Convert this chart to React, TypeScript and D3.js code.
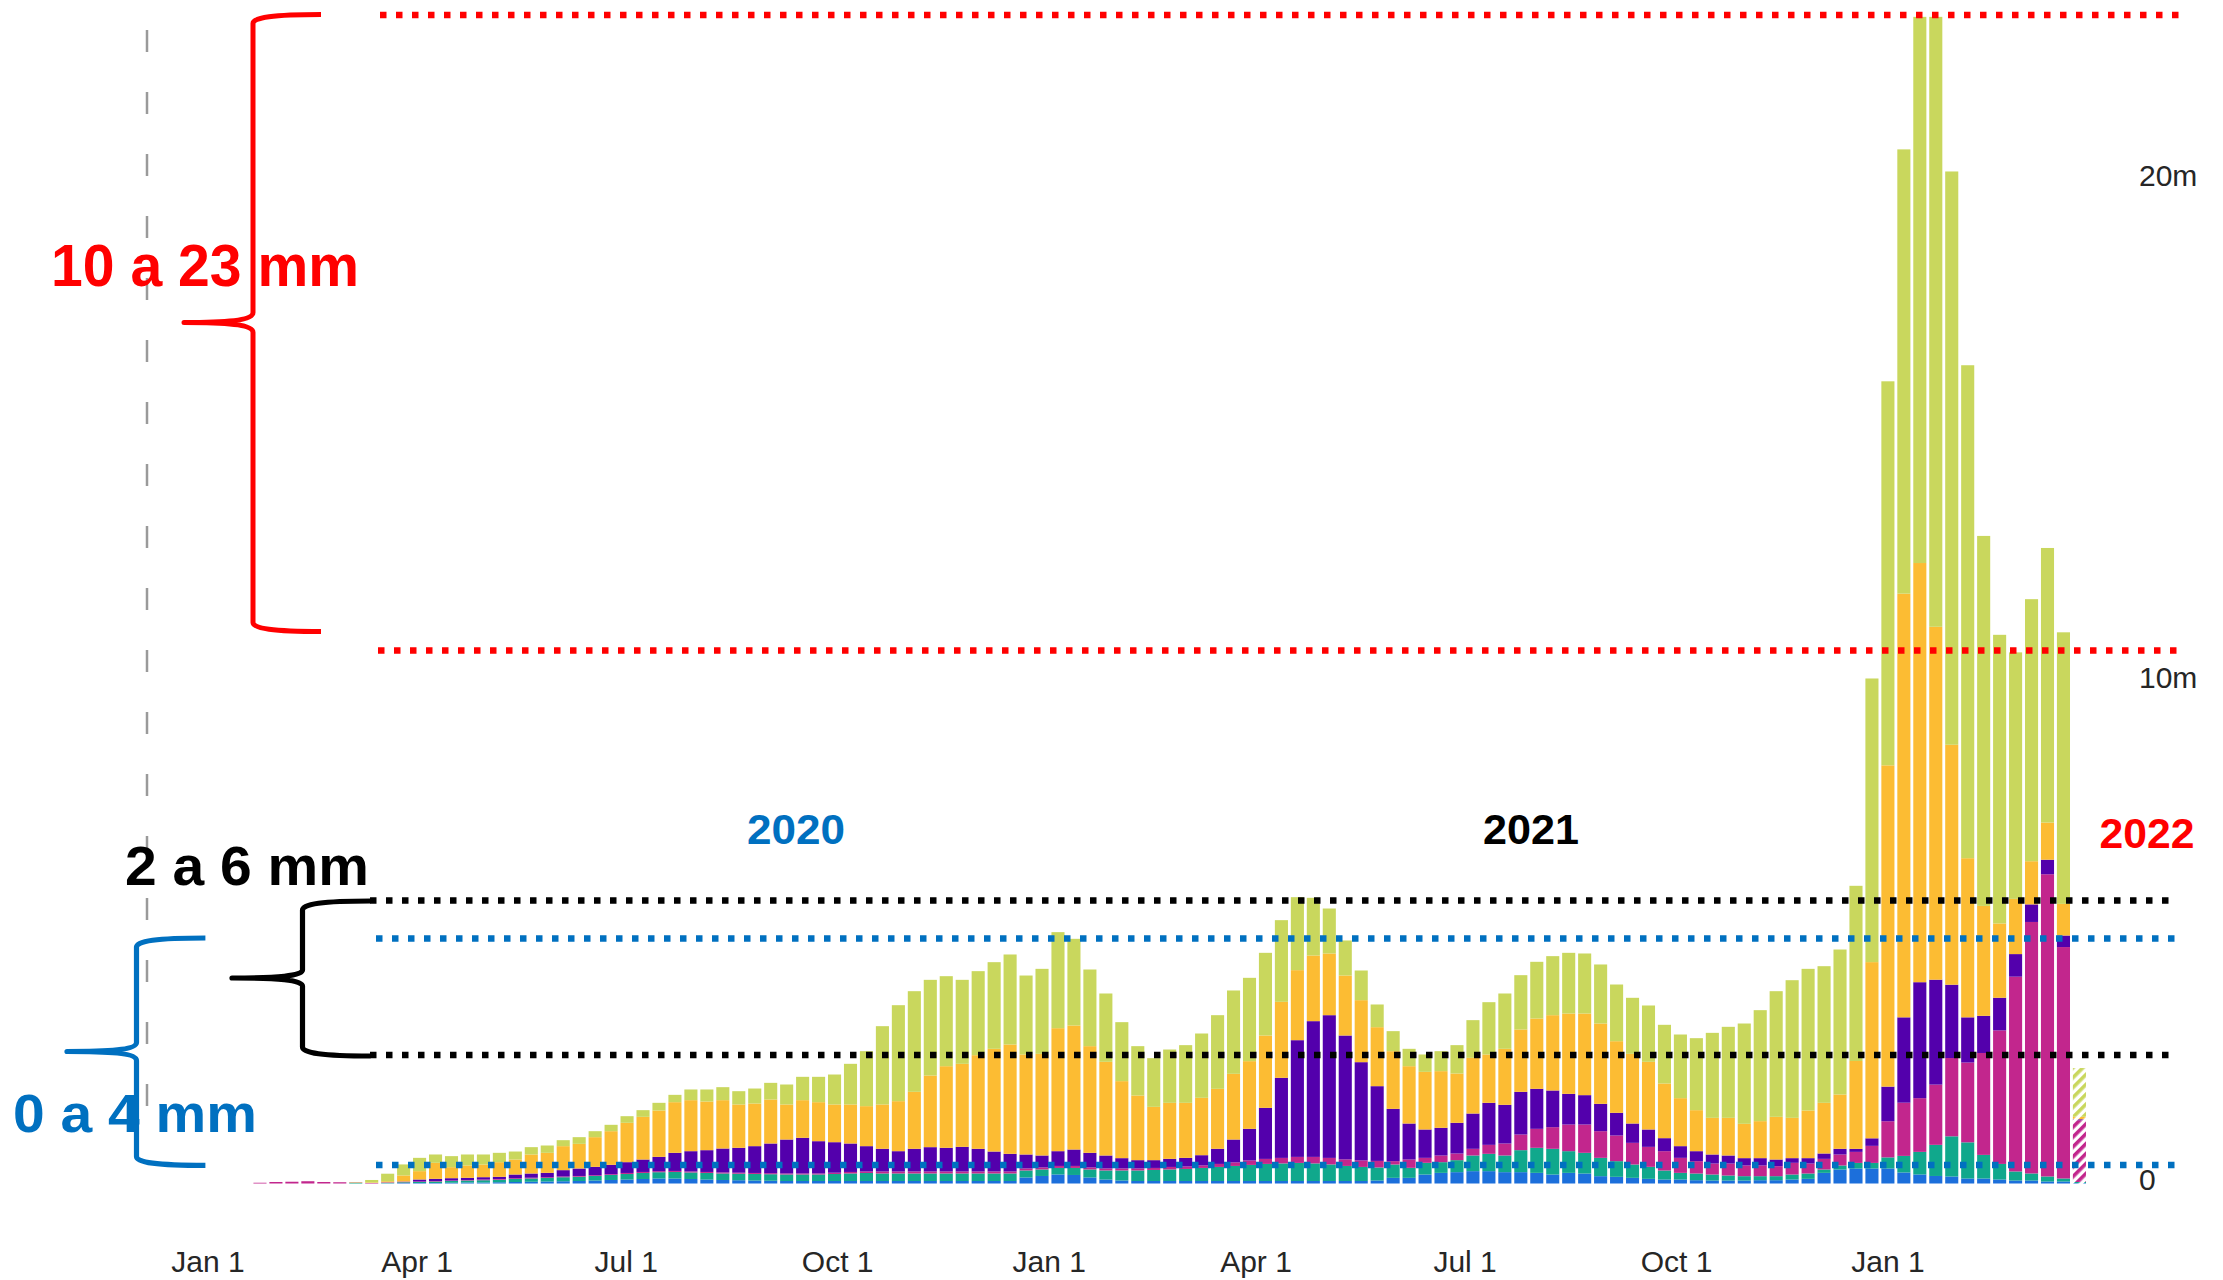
import React from "react";
import * as d3 from "d3";

const W = 2223;
const H = 1280;

// weekly new cases, millions, stacked bottom → top
const seriesKeys = ["africa", "eastMed", "westPac", "seAsia", "americas", "europe"];
const seriesColors = ["#1c6fdb", "#10a88c", "#c2268d", "#5300ac", "#fcbc33", "#c9d75d"];

const africa = [
  0, 0, 0, 0, 0, 0, 0, 0, .005, .01, .01, .01, .015, .02, .02, .025, .03, .035, .04, .045,
  .05, .06, .07, .08, .09, .1, .1, .09, .08, .07, .065, .06, .055, .05, .05, .05, .05, .05, .05, .05,
  .05, .05, .05, .05, .05, .05, .05, .05, .12, .15, .18, .17, .12, .08, .06, .05, .05, .05, .05, .05,
  .05, .05, .05, .05, .05, .05, .05, .05, .05, .05, .06, .113, .113, .179, .212, .226, .246, .246, .226, .226,
  .212, .179, .212, .199, .146, .133, .113, .093, .08, .08, .066, .06, .06, .06, .066, .066, .08, .093, .212, .279,
  .30, .30, .30, .22, .18, .15, .14, .10, .10, .08, .06, .06, .04, .04, .01,
];
const eastMed = [
  0, 0, 0, 0, 0, 0, .01, 0, .01, .015, .02, .03, .035, .04, .045, .05, .06, .065, .07, .08,
  .085, .09, .1, .11, .12, .125, .13, .13, .13, .13, .13, .13, .13, .13, .13, .13, .14, .15, .16, .15,
  .15, .15, .15, .15, .15, .15, .15, .15, .14, .13, .13, .14, .16, .18, .2, .21, .22, .23, .24, .26,
  .28, .3, .32, .34, .35, .36, .35, .33, .3, .28, .26, .265, .199, .233, .213, .239, .312, .345, .332, .438,
  .499, .512, .432, .412, .365, .312, .265, .239, .179, .132, .133, .119, .099, .086, .08, .08, .099, .106, .067, .08,
  .11, .11, .22, .33, .45, .62, .80, .72, .47, .31, .18, .14, .10, .06, .02,
];
const westPac = [
  .015, .03, .035, .045, .03, .025, .01, .01, .01, .01, .01, .01, .01, .01, .015, .015, .015, .015, .015, .015,
  .015, .015, .015, .02, .02, .02, .02, .02, .02, .02, .02, .02, .02, .02, .02, .02, .025, .03, .03, .04,
  .04, .04, .04, .04, .04, .04, .04, .04, .04, .04, .04, .04, .04, .04, .04, .04, .04, .05, .05, .05,
  .06, .07, .09, .1, .11, .12, .13, .13, .13, .13, .13, .067, .166, .099, .133, .133, .133, .179, .239, .312,
  .378, .431, .531, .564, .531, .511, .432, .398, .385, .299, .246, .219, .239, .213, .213, .199, .233, .199, .212, .219,
  .22, .34, .72, 1.06, 1.07, 1.20, 1.56, 1.59, 2.03, 2.66, 3.88, 5.01, 6.02, 4.61, 1.23,
];
const seAsia = [
  0, 0, 0, 0, 0, 0, 0, 0, 0, .005, .04, .043, .046, .043, .046, .043, .074, .084, .087, .126,
  .149, .167, .187, .215, .248, .286, .361, .404, .434, .477, .496, .534, .592, .676, .71, .643, .608, .567, .504, .451,
  .404, .451, .484, .471, .49, .451, .397, .351, .278, .238, .294, .327, .291, .258, .205, .165, .155, .161, .171, .204,
  .301, .456, .629, 1.017, 1.595, 2.325, 2.704, 2.843, 2.468, 1.957, 1.489, 1.042, .717, .565, .551, .611, .703, .837, .77, .85,
  .797, .731, .611, .585, .545, .452, .385, .346, .259, .233, .199, .18, .16, .146, .146, .133, .093, .107, .107, .113,
  .06, .15, .69, 1.70, 2.31, 2.09, 1.46, .90, .74, .65, .45, .35, .29, .23, .02,
];
const americas = [
  0, 0, 0, 0, 0, 0, 0, .01, .02, .12, .166, .319, .219, .246, .252, .292, .299, .379, .399, .478,
  .491, .591, .67, .784, .85, .923, 1.009, 1.016, .969, .963, .863, .85, .876, .698, .75, .777, .751, .777, .797, .883,
  .996, 1.135, 1.427, 1.626, 1.654, 1.865, 2.046, 2.178, 1.992, 2.025, 2.45, 2.47, 2.125, 1.866, 1.534, 1.288, 1.062, 1.116, 1.096, 1.143,
  1.195, 1.309, 1.348, 1.441, 1.514, 1.395, 1.308, 1.229, 1.195, 1.235, 1.175, 1.149, 1.142, 1.148, 1.129, .982, 1.109, .963, 1.116, 1.242,
  1.401, 1.5, 1.6, 1.626, 1.6, 1.427, 1.388, 1.348, 1.089, .956, .817, .73, .75, .684, .737, .85, .803, .949, 1.009, 1.082,
  1.75, 3.51, 6.40, 8.44, 8.35, 7.03, 4.78, 3.17, 2.19, 1.48, 1.10, .86, .74, .63, .05,
];
const europe = [
  0, 0, 0, 0, 0, 0, .01, .05, .15, .22, .265, .166, .22, .219, .2, .186, .159, .146, .146, .119,
  .133, .119, .127, .132, .133, .153, .146, .213, .24, .259, .265, .298, .332, .398, .465, .505, .597, .81, 1.095, 1.56,
  1.912, 2.005, 1.906, 1.793, 1.673, 1.674, 1.726, 1.793, 1.573, 1.693, 1.913, 1.727, 1.527, 1.361, 1.175, .983, .97, 1.062, 1.149, 1.281,
  1.467, 1.66, 1.66, 1.647, 1.627, 1.454, 1.149, .896, .698, .591, .452, .399, .346, .346, .398, .565, .751, 1.042, 1.102, 1.082,
  1.129, 1.176, 1.209, 1.196, 1.176, 1.129, 1.116, 1.122, 1.169, 1.268, 1.434, 1.693, 1.813, 1.998, 2.211, 2.503, 2.742, 2.822, 2.722, 2.888,
  3.49, 5.65, 7.65, 8.85, 10.88, 12.15, 11.42, 9.82, 7.37, 5.75, 4.91, 5.22, 5.47, 5.41, .97,
];
const seriesValues = [africa, eastMed, westPac, seAsia, americas, europe];

const firstWeekStart = new Date(2020, 0, 18);
const partialWeekCount = 1; // last week still incomplete (hatched)

const yTickValues = [0, 10, 20];
const yTickLabels = ["0", "10m", "20m"];

const xTickDates = [
  new Date(2020, 0, 1), new Date(2020, 3, 1), new Date(2020, 6, 1), new Date(2020, 9, 1),
  new Date(2021, 0, 1), new Date(2021, 3, 1), new Date(2021, 6, 1), new Date(2021, 9, 1),
  new Date(2022, 0, 1),
];
const xTickLabels = ["Jan 1", "Apr 1", "Jul 1", "Oct 1", "Jan 1", "Apr 1", "Jul 1", "Oct 1", "Jan 1"];

// annotation levels (millions)
const annotationLevels = { redTop: 23.277, redBottom: 10.618, blackTop: 5.637, blueTop: 4.88, blackBottom: 2.56, blueBottom: 0.3685 };

const RED = "#ff0000";
const BLUE = "#0070c0";
const BLACK = "#000000";

function bracePath(xArm: number, xv: number, yTop: number, yBot: number, xTip: number, yTip: number, split: number) {
  const r = 9;
  return [
    `M${xArm},${yTop}`,
    `C${xv + 20},${yTop} ${xv},${yTop + 3} ${xv},${yTop + r}`,
    `L${xv},${yTip - split}`,
    `C${xv},${yTip - 2} ${xv - 25},${yTip} ${xTip},${yTip}`,
    `C${xv - 25},${yTip} ${xv},${yTip + 2} ${xv},${yTip + split}`,
    `L${xv},${yBot - r}`,
    `C${xv},${yBot - 3} ${xv + 20},${yBot} ${xArm},${yBot}`,
  ].join(" ");
}

export default function App() {
  const n = africa.length;
  const weeks = d3.range(n).map((i) => d3.timeDay.offset(firstWeekStart, 7 * i));
  const fmt = d3.timeFormat("%Y-%m-%d");
  const weekKeys = weeks.map(fmt);

  const table = weekKeys.map((k, i) => {
    const row: any = { week: k };
    seriesKeys.forEach((s, si) => (row[s] = seriesValues[si][i]));
    return row;
  });
  const layers = d3.stack<any>().keys(seriesKeys)(table);

  const xBand = d3.scaleBand<string>().domain(weekKeys).range([252, 2087.4]).paddingInner(0.18).paddingOuter(0.09);
  const xTime = d3.scaleTime().domain([new Date(2020, 0, 1), new Date(2022, 0, 1)]).range([208, 1888]);
  const y = d3.scaleLinear().domain([0, 20]).range([1183.5, 179.5]);

  const bw = xBand.bandwidth();
  const lastIdx = n - partialWeekCount;

  const dot = { strokeWidth: 6.5, strokeDasharray: "6.5 9.5", fill: "none" } as const;
  const yl = (k: keyof typeof annotationLevels) => y(annotationLevels[k]);

  return (
    <div style={{ position: "absolute", left: 0, top: 0, width: W, height: H, background: "#fff" }}>
      <svg width={W} height={H} viewBox={`0 0 ${W} ${H}`} style={{ display: "block" }}>
        <defs>
          {seriesColors.map((c, i) => (
            <pattern key={i} id={`hatch-${i}`} patternUnits="userSpaceOnUse" width={7} height={7} patternTransform="rotate(45)">
              <rect width={7} height={7} fill="#ffffff" />
              <rect width={3.6} height={7} fill={c} />
            </pattern>
          ))}
        </defs>
        <rect width={W} height={H} fill="#fff" />

        {/* gray dashed vertical line */}
        <line x1={147} x2={147} y1={0} y2={1135} stroke="#9a9a9a" strokeWidth={2.5} strokeDasharray="22 40" strokeDashoffset={-30} />

        {/* bars */}
        <g>
          {layers.map((layer, si) =>
            layer.map((d, i) => {
              const y0 = y(d[0]);
              const y1 = y(d[1]);
              const h = y0 - y1;
              if (h <= 0) return null;
              return (
                <rect
                  key={`${si}-${i}`}
                  x={xBand(weekKeys[i])}
                  y={y1}
                  width={bw}
                  height={h}
                  fill={i >= lastIdx ? `url(#hatch-${si})` : seriesColors[si]}
                />
              );
            })
          )}
        </g>

        {/* y tick labels */}
        <g fontFamily="'Liberation Sans', Arial, sans-serif" fontSize={30} fill="#262626">
          {yTickValues.map((v, i) => (
            <text key={i} x={2139} y={y(v) + 6.5}>
              {yTickLabels[i]}
            </text>
          ))}
        </g>

        {/* x tick labels */}
        <g fontFamily="'Liberation Sans', Arial, sans-serif" fontSize={30} fill="#262626" textAnchor="middle">
          {xTickDates.map((d, i) => (
            <text key={i} x={xTime(d)} y={1272}>
              {xTickLabels[i]}
            </text>
          ))}
        </g>

        {/* dotted guide lines */}
        <line x1={380} x2={2180} y1={yl("redTop")} y2={yl("redTop")} stroke={RED} {...dot} />
        <line x1={378} x2={2178} y1={yl("redBottom")} y2={yl("redBottom")} stroke={RED} {...dot} />
        <line x1={370} x2={2170} y1={yl("blackTop")} y2={yl("blackTop")} stroke={BLACK} {...dot} />
        <line x1={376} x2={2175} y1={yl("blueTop")} y2={yl("blueTop")} stroke={BLUE} {...dot} />
        <line x1={370} x2={2170} y1={yl("blackBottom")} y2={yl("blackBottom")} stroke={BLACK} {...dot} />
        <line x1={376} x2={2175} y1={yl("blueBottom")} y2={yl("blueBottom")} stroke={BLUE} {...dot} />

        {/* braces */}
        <path d={bracePath(321, 253, 14.5, 631.5, 184, 322.5, 10)} stroke={RED} strokeWidth={5} fill="none" strokeLinejoin="round" />
        <path d={bracePath(370.5, 302.5, 901, 1056, 232, 978, 8)} stroke={BLACK} strokeWidth={5.2} fill="none" strokeLinejoin="round" />
        <path d={bracePath(205.4, 136.5, 938, 1165.4, 67, 1051.5, 9)} stroke={BLUE} strokeWidth={5.2} fill="none" strokeLinejoin="round" />

        {/* annotation texts */}
        <g fontFamily="'Liberation Sans', Arial, sans-serif" fontWeight="bold">
          <text x={51} y={285.7} fontSize={59} fill={RED} textLength={308} lengthAdjust="spacingAndGlyphs">10 a 23 mm</text>
          <text x={125} y={885} fontSize={56} fill={BLACK} textLength={244} lengthAdjust="spacingAndGlyphs">2 a 6 mm</text>
          <text x={13} y={1132} fontSize={54} fill={BLUE} textLength={244} lengthAdjust="spacingAndGlyphs">0 a 4 mm</text>
          <text x={796} y={843.5} fontSize={42} fill={BLUE} textAnchor="middle" textLength={98} lengthAdjust="spacingAndGlyphs">2020</text>
          <text x={1531} y={844} fontSize={42} fill={BLACK} textAnchor="middle" textLength={96} lengthAdjust="spacingAndGlyphs">2021</text>
          <text x={2147} y={848} fontSize={42} fill={RED} textAnchor="middle" textLength={95} lengthAdjust="spacingAndGlyphs">2022</text>
        </g>
      </svg>
    </div>
  );
}
